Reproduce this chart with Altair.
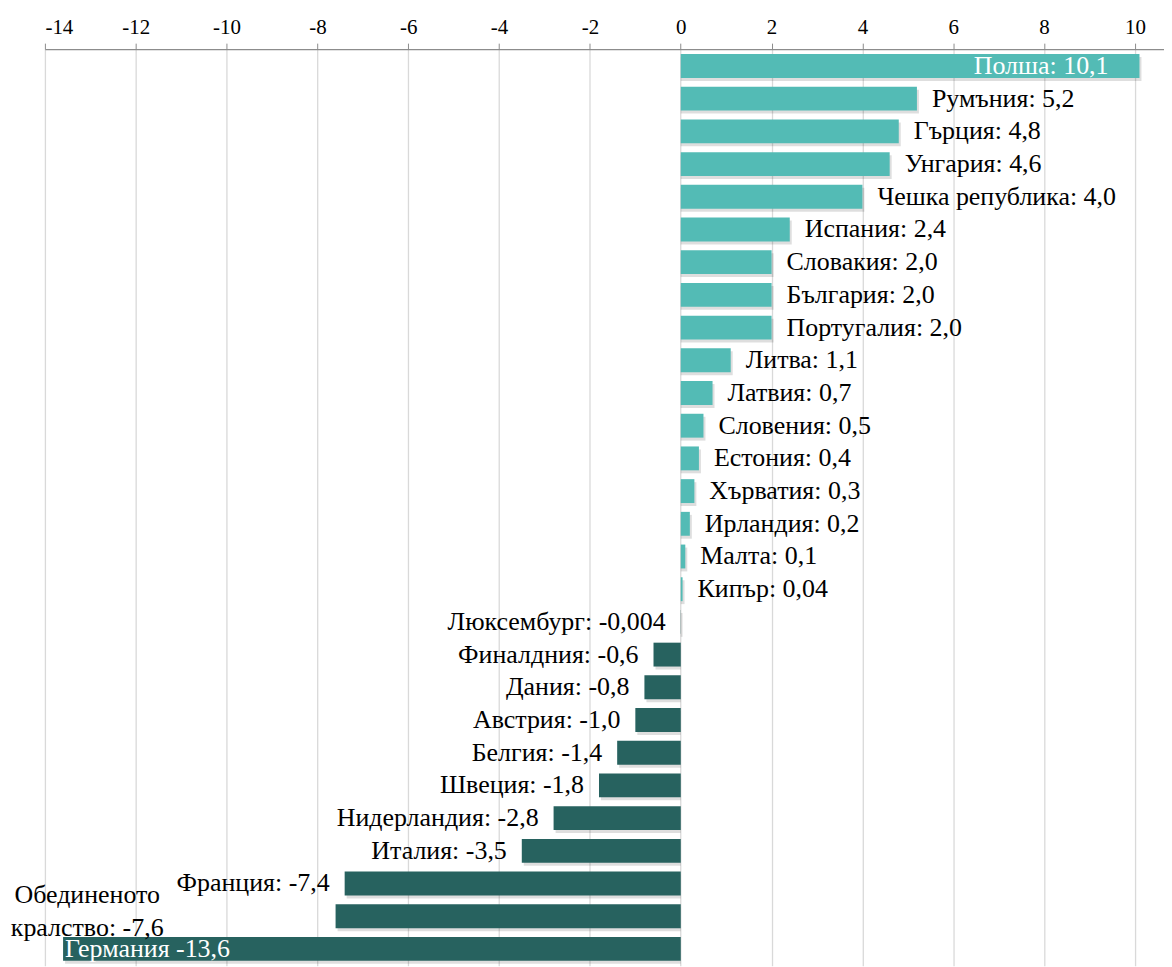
import altair as alt
import pandas as pd

countries = ["Полша", "Румъния", "Гърция", "Унгария", "Чешка република", "Испания",
             "Словакия", "България", "Португалия", "Литва", "Латвия", "Словения",
             "Естония", "Хърватия", "Ирландия", "Малта", "Кипър", "Люксембург",
             "Финалдния", "Дания", "Австрия", "Белгия", "Швеция", "Нидерландия",
             "Италия", "Франция", "Обединеното кралство", "Германия"]
values = [10.1, 5.2, 4.8, 4.6, 4.0, 2.4, 2.0, 2.0, 2.0, 1.1, 0.7, 0.5, 0.4, 0.3,
          0.2, 0.1, 0.04, -0.004, -0.6, -0.8, -1.0, -1.4, -1.8, -2.8, -3.5, -7.4,
          -7.6, -13.6]
labels = ["Полша: 10,1", "Румъния: 5,2", "Гърция: 4,8", "Унгария: 4,6",
          "Чешка република: 4,0", "Испания: 2,4", "Словакия: 2,0", "България: 2,0",
          "Португалия: 2,0", "Литва: 1,1", "Латвия: 0,7", "Словения: 0,5",
          "Естония: 0,4", "Хърватия: 0,3", "Ирландия: 0,2", "Малта: 0,1",
          "Кипър: 0,04", "Люксембург: -0,004", "Финалдния: -0,6", "Дания: -0,8",
          "Австрия: -1,0", "Белгия: -1,4", "Швеция: -1,8", "Нидерландия: -2,8",
          "Италия: -3,5", "Франция: -7,4", "Обединеното\nкралство: -7,6",
          "Германия -13,6"]
x_ticks = list(range(-14, 11, 2))

df = pd.DataFrame({"country": countries, "value": values, "label": labels})
df["sign"] = ["pos" if v > 0 else "neg" for v in values]

FONT = "Liberation Serif"
FS = 26
y = alt.Y("country:N", sort=countries, axis=None,
          scale=alt.Scale(paddingInner=0.27, paddingOuter=0.15))
x = alt.X("value:Q",
          scale=alt.Scale(domain=[-14, 10.64], nice=False, zero=False),
          axis=alt.Axis(orient="top", values=x_ticks, title=None, grid=True,
                        gridColor="#D9D9D9", gridWidth=1.3, domainColor="#8C8C8C",
                        domainWidth=1.3, tickColor="#8C8C8C", tickSize=6,
                        labelFont="Times New Roman", labelFontSize=21,
                        labelColor="#000000", labelPadding=6,
                        labelExpr="toString(datum.value)"))

base = alt.Chart(df)

shadow = base.mark_bar(color="#000000", opacity=0.13, xOffset=2, yOffset=3).encode(
    x=x, x2=alt.datum(0), y=y)

bars = base.mark_bar().encode(
    x=x, x2=alt.datum(0), y=y,
    color=alt.Color("sign:N", scale=alt.Scale(domain=["pos", "neg"],
                                              range=["#53BBB5", "#27625F"]),
                    legend=None))

pos_lab = base.transform_filter(
    "datum.value > 0 && datum.country != 'Полша'").mark_text(
    font=FONT, fontSize=FS, baseline="middle",
    align="left", dx=15, color="#000000").encode(x=x, y=y, text="label:N")

pol_lab = base.transform_filter("datum.country == 'Полша'").mark_text(
    font="serif", fontSize=FS, baseline="middle",
    align="right", dx=-31, color="#FFFFFF").encode(x=x, y=y, text="label:N")

neg_lab = base.transform_filter(
    "datum.value < 0 && datum.country != 'Германия' && datum.country != 'Обединеното кралство'"
).mark_text(font="Times New Roman", fontSize=FS, baseline="middle",
            align="right", dx=-15, color="#000000").encode(
    x=x, y=y, text="label:N")

ger_lab = base.transform_filter("datum.country == 'Германия'").mark_text(
    font=FONT, fontSize=FS, baseline="middle",
    align="left", dx=2, color="#FFFFFF").encode(x=x, y=y, text="label:N")

uk_lab = base.transform_filter("datum.country == 'Обединеното кралство'").mark_text(
    font=FONT, fontSize=FS, baseline="middle",
    align="center", dx=-249, dy=-21, lineBreak="\n", lineHeight=33,
    color="#000000").encode(x=x, y=y, text="label:N")

chart = alt.layer(shadow, bars, pos_lab, pol_lab, neg_lab, ger_lab, uk_lab).properties(
    width=1122, height=919,
    autosize=alt.AutoSizeParams(type="none"),
    padding={"left": 37, "top": 40, "right": 0, "bottom": 0},
    background="#FFFFFF",
    view=alt.ViewBackground(stroke=None),
)

chart.save("out.html", embed_options={"renderer": "svg", "actions": False})
